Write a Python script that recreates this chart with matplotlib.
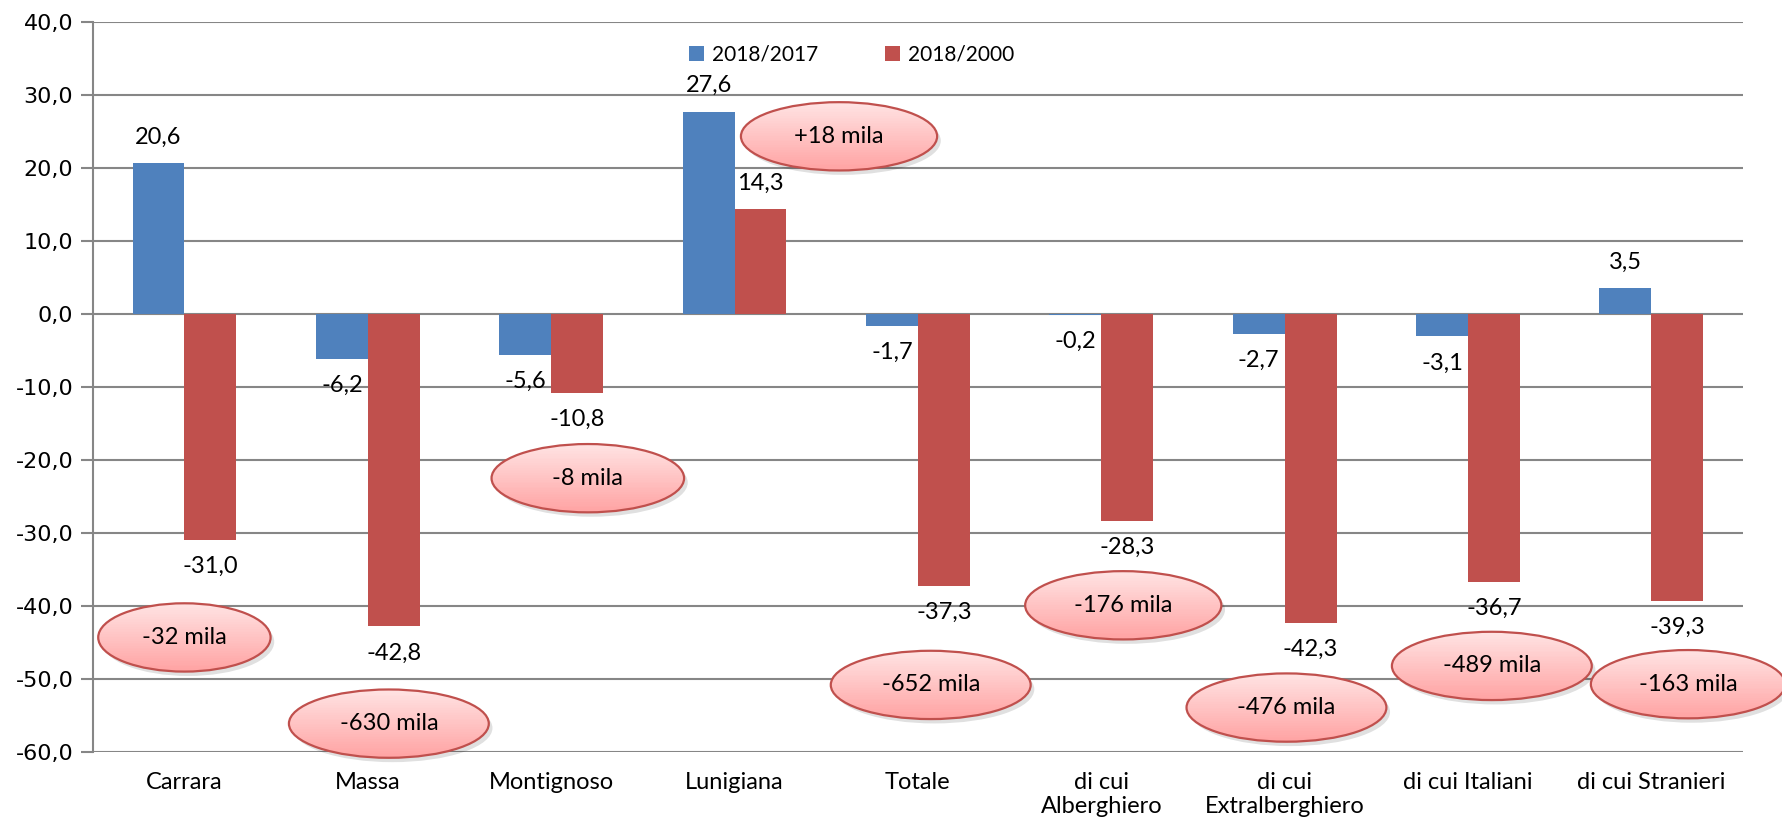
import matplotlib
matplotlib.use('Agg')
import matplotlib.pyplot as plt
import numpy as np
from matplotlib.patches import Ellipse

# Presenze turistiche: variazioni percentuali per area
categories = ['Carrara', 'Massa', 'Montignoso', 'Lunigiana', 'Totale',
              'di cui\nAlberghiero', 'di cui\nExtralberghiero',
              'di cui Italiani', 'di cui Stranieri']
var_2018_2017 = [20.6, -6.2, -5.6, 27.6, -1.7, -0.2, -2.7, -3.1, 3.5]
var_2018_2000 = [-31.0, -42.8, -10.8, 14.3, -37.3, -28.3, -42.3, -36.7, -39.3]
series_names = ['2018/2017', '2018/2000']

# absolute change since 2000, shown in the callouts
callout_text = ['-32 mila', '-630 mila', '-8 mila', '+18 mila', '-652 mila',
                '-176 mila', '-476 mila', '-489 mila', '-163 mila']
callout_dx = [0.0, 1.115, 2.20, 3.57, 4.07, 5.12, 6.01, 7.13, 8.20]
callout_y = [-44.3, -56.1, -22.5, 24.3, -50.8, -39.9, -53.9, -48.2, -50.7]
callout_w = [0.94, 1.09, 1.05, 1.07, 1.09, 1.07, 1.09, 1.09, 1.06]

blue = '#4F81BD'
red = '#C0504D'
grid_col = '#868686'

plt.rcParams['font.family'] = ['Lato', 'DejaVu Sans']

fig = plt.figure(figsize=(17.83, 8.32), dpi=100)
ax = fig.add_axes([0.052, 0.096, 0.9256, 0.878])

x = np.arange(len(categories))
w = 0.283
ax.bar(x - w / 2, var_2018_2017, w, color=blue, label=series_names[0], zorder=3)
ax.bar(x + w / 2, var_2018_2000, w, color=red, label=series_names[1], zorder=3)


def fmt(v):
    return ('%.1f' % v).replace('.', ',')


for xs, vals in [(x - w / 2, var_2018_2017), (x + w / 2, var_2018_2000)]:
    for xi, v in zip(xs, vals):
        off = 19 if v >= 0 else -19
        ax.annotate(fmt(v), (xi, v), xytext=(0, off), textcoords='offset points',
                    ha='center', va='center', fontsize=17, zorder=6)

# gradient-filled callout ellipses
cmap = matplotlib.colors.LinearSegmentedColormap.from_list(
    'pink', ['#FFA3A3', '#FFE3E3'])
nb = 40
for txt, cx, cy, ew in zip(callout_text, callout_dx, callout_y, callout_w):
    eh = 9.35
    shadow = Ellipse((cx + 0.02, cy - 0.6), ew, eh, facecolor='#000000',
                     alpha=0.12, edgecolor='none', zorder=4, clip_on=False)
    ax.add_patch(shadow)
    ell = Ellipse((cx, cy), ew, eh, facecolor='none', edgecolor=red,
                  linewidth=1.6, zorder=5.5, clip_on=False)
    ax.add_patch(ell)
    xe = [cx - ew / 2, cx + ew / 2]
    ye = np.linspace(cy - eh / 2, cy + eh / 2, nb + 1)
    shade = np.linspace(0, 1, nb).reshape(-1, 1)
    mesh = ax.pcolormesh(xe, ye, shade, cmap=cmap, zorder=5)
    mesh.set_clip_box(None)
    mesh.set_clip_path(ell)
    ax.text(cx, cy, txt, ha='center', va='center', fontsize=17, zorder=6)

ax.set_xlim(-0.5, len(categories) - 0.5)
ax.set_ylim(-60, 40)
ax.set_yticks(np.arange(-60, 41, 10))
ax.set_yticklabels([fmt(v) for v in np.arange(-60, 41, 10)],
                   fontfamily='DejaVu Sans', fontsize=16)
ax.set_xticks(x)
ax.set_xticklabels(categories, fontsize=17)
ax.tick_params(axis='x', length=0, pad=14)
ax.tick_params(axis='y', length=9, width=1.5, color=grid_col, pad=5)
ax.yaxis.grid(True, color=grid_col, linewidth=1.5, zorder=0)
for s in ['top', 'right', 'bottom']:
    ax.spines[s].set_visible(False)
ax.spines['left'].set_color(grid_col)
ax.spines['left'].set_linewidth(1.5)

ax.legend(loc='center', bbox_to_anchor=(0.46, 0.955), ncol=2, frameon=False,
          fontsize=15, handlelength=0.7, handleheight=0.7, columnspacing=3.2,
          handletextpad=0.4)

plt.savefig('out.png', dpi=100)
plt.close()
